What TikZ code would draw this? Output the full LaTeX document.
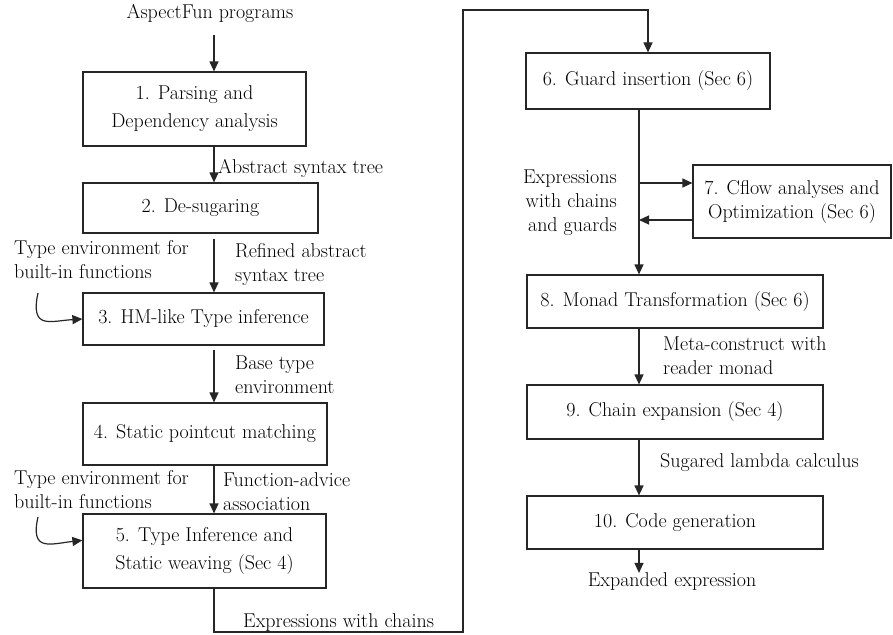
\documentclass[tikz,border=0pt]{standalone}
\usepackage{fontspec}
\usetikzlibrary{arrows.meta}
\begin{document}
\begin{tikzpicture}[x=1pt,y=-1pt,
  box/.style={draw=black!85, line width=1.2pt, inner sep=0pt, align=center, font=\rmfamily\fontsize{20}{24}\selectfont},
  lbl/.style={inner sep=0pt, font=\rmfamily\fontsize{20}{24}\selectfont},
  arr/.style={draw=black!85, line width=1.2pt, -{Triangle[length=10pt,width=9pt]}}]
\fill[white] (0,0) rectangle (893,634);
\useasboundingbox (0,0) rectangle (893,634);
\coordinate (lx) at (214,0);
\coordinate (rx) at (639,0);
% left column boxes
\node[box, minimum width=223pt, minimum height=74pt, font=\rmfamily\fontsize{20}{28}\selectfont] (b1) at (194.5,109) {1. Parsing and\\Dependency analysis};
\node[box, minimum width=235pt, minimum height=50pt] (b2) at (200.5,208) {2. De-sugaring};
\node[box, minimum width=241pt, minimum height=52pt] (b3) at (203.5,319) {3. HM-like Type inference};
\node[box, minimum width=244pt, minimum height=62pt] (b4) at (205,434) {4. Static pointcut matching};
\node[box, minimum width=243pt, minimum height=74pt, font=\rmfamily\fontsize{20}{28}\selectfont] (b5) at (204.5,551) {5. Type Inference and\\Static weaving (Sec 4)};
% right column boxes
\node[box, minimum width=244pt, minimum height=56pt] (b6) at (648,81) {6. Guard insertion (Sec 6)};
\node[box, minimum width=198pt, minimum height=73pt] (b7) at (792,201.5) {7. Cflow analyses and\\Optimization (Sec 6)};
\node[box, minimum width=296pt, minimum height=53pt] (b8) at (675,301.5) {8. Monad Transformation (Sec 6)};
\node[box, minimum width=296pt, minimum height=54pt] (b9) at (675,412) {9. Chain expansion (Sec 4)};
\node[box, minimum width=296pt, minimum height=53pt] (b10) at (675,522.5) {10. Code generation};
% labels
\node[lbl] (src) at (210,13) {AspectFun programs};
\node[lbl, anchor=west] (l1) at (218,168) {Abstract syntax tree};
\node[lbl, anchor=west, align=left] (l2) at (235,264.5) {Refined abstract\\syntax tree};
\node[lbl, anchor=west, align=left] (te1) at (14,260) {Type environment for\\built-in functions};
\node[lbl, anchor=west, align=left] (l3) at (235,375) {Base type\\environment};
\node[lbl, anchor=west, align=left] (l4) at (223,491.5) {Function-advice\\association};
\node[lbl, anchor=west, align=left] (te2) at (14,490) {Type environment for\\built-in functions};
\node[lbl, anchor=base west] (l5) at (243,627) {Expressions with chains};
\node[lbl, anchor=east, align=right] (l6) at (617,203) {Expressions\\with chains\\and guards};
\node[lbl, anchor=west, align=left] (l8) at (663,356) {Meta-construct with\\reader monad};
\node[lbl, anchor=west] (l9) at (660,463) {Sugared lambda calculus};
\node[lbl] (out) at (672,582) {Expanded expression};
% left column connectors
\draw[arr, shorten <=13pt] (src.south -| lx) -- (b1.north -| lx);
\draw[arr] (b1.south -| lx) -- (b2.north -| lx);
\draw[arr, shorten <=5pt] (b2.south -| lx) -- (b3.north -| lx);
\draw[arr, shorten <=4pt] (b3.south -| lx) -- (b4.north -| lx);
\draw[arr] (b4.south -| lx) -- (b5.north -| lx);
\coordinate (c1) at (38,293);
\draw[arr] (c1) .. controls (30,330) and (50,321) .. (b3.west);
\coordinate (c2) at (38,517);
\draw[arr] (c2) .. controls (30,552) and (50,544) .. (b5.175);
% long connector
\coordinate (lo) at (463,632);
\coordinate (hi) at (463,10);
\draw[arr] (b5.south -| lx) |- (lo) -- (hi) -| (b6.north);
% right column connectors
\draw[arr] (b6.south -| rx) -- (b8.north -| rx);
\coordinate (j1) at (639,183);
\coordinate (j2) at (639,220);
\draw[arr] (j1) -- (j1 -| b7.west);
\draw[arr] (j2 -| b7.west) -- (j2);
\draw[arr] (b8.south -| rx) -- (b9.north -| rx);
\draw[arr] (b9.south -| rx) -- (b10.north -| rx);
\draw[arr] (b10.south -| rx) -- (out.north -| rx);
\end{tikzpicture}
\end{document}
